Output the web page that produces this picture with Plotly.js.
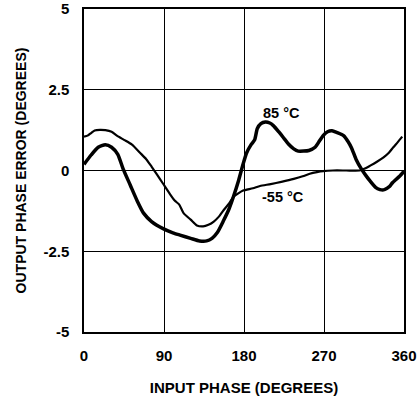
<!DOCTYPE html>
<html><head><meta charset="utf-8">
<script src="https://cdn.plot.ly/plotly-3.0.1.min.js"></script>
<style>html,body{margin:0;padding:0;background:#fff}</style>
</head><body><div id="chart" style="width:420px;height:398px"></div>
<script>
// 85 °C curve (thick)
const hotX = [0, 8, 16, 24, 31, 38, 44, 52, 60, 67, 76, 89, 100, 108, 120, 130, 138, 144, 150, 157, 163, 168, 174, 179, 183, 188, 192, 195, 199, 204, 209, 213, 219, 224, 230, 236, 241, 247, 253, 260, 265, 269, 274, 279, 285, 292, 297, 301, 306, 312, 317, 322, 328, 333, 337, 341, 344, 347, 350, 355, 360];
const hotY = [0.19, 0.48, 0.72, 0.80, 0.72, 0.50, 0.05, -0.45, -0.95, -1.32, -1.58, -1.80, -1.93, -2.00, -2.10, -2.18, -2.18, -2.10, -1.92, -1.55, -1.20, -0.82, -0.30, 0.20, 0.55, 0.80, 0.95, 1.30, 1.45, 1.50, 1.47, 1.39, 1.20, 1.03, 0.82, 0.67, 0.60, 0.60, 0.62, 0.72, 0.92, 1.08, 1.20, 1.23, 1.17, 1.08, 0.90, 0.70, 0.35, 0.05, -0.15, -0.33, -0.52, -0.59, -0.60, -0.55, -0.49, -0.38, -0.30, -0.18, -0.02];
// -55 °C curve (thin)
const coldX = [0, 4, 8, 12, 18, 24, 31, 37, 45, 54, 63, 70, 76, 82, 89, 96, 102, 107, 112, 120, 127, 134, 140, 146, 152, 157, 163, 168, 174, 179, 190, 198, 210, 222, 236, 246, 254, 262, 269, 280, 295, 310, 316, 322, 330, 337, 343, 348, 353, 358];
const coldY = [1.05, 1.08, 1.16, 1.24, 1.26, 1.25, 1.20, 1.08, 0.95, 0.80, 0.55, 0.35, 0.12, -0.12, -0.41, -0.70, -0.93, -1.05, -1.32, -1.52, -1.70, -1.73, -1.68, -1.58, -1.42, -1.23, -1.03, -0.82, -0.70, -0.62, -0.55, -0.48, -0.42, -0.35, -0.26, -0.18, -0.10, -0.05, -0.02, 0.00, 0.00, 0.00, 0.06, 0.15, 0.28, 0.41, 0.55, 0.72, 0.88, 1.05];
const xTicks = [0, 90, 180, 270, 360];
const xTickText = ["0", "90", "180", "270", "360"];
const yTicks = [-5, -2.5, 0, 2.5, 5];
const yTickText = ["-5", "-2.5", "0", "2.5", "5"];
const labelHot = {text: "85 °C", x: 222, y: 1.78};
const labelCold = {text: "-55 °C", x: 224, y: -0.82};

const F = "Liberation Sans, Arial, Helvetica, sans-serif";
const traces = [
  {x: coldX, y: coldY, mode: "lines", line: {color: "#000", width: 2.2, shape: "spline", smoothing: 0.6}, hoverinfo: "skip"},
  {x: hotX, y: hotY, mode: "lines", line: {color: "#000", width: 3.5, shape: "spline", smoothing: 0.6}, hoverinfo: "skip"}
];
const layout = {
  width: 420, height: 398,
  margin: {l: 84, r: 16, t: 9, b: 66},
  paper_bgcolor: "#fff", plot_bgcolor: "#fff",
  showlegend: false,
  font: {family: F, size: 15, color: "#000", weight: "bold"},
  xaxis: {
    range: [0, 360], tickvals: xTicks, ticktext: xTickText,
    showgrid: true, gridcolor: "#000", gridwidth: 1, zeroline: false,
    showline: true, linecolor: "#000", linewidth: 1.6, mirror: true,
    ticks: "outside", ticklen: 9, tickcolor: "rgba(0,0,0,0)",
    tickfont: {family: F, size: 15, weight: "bold"},
    title: {text: "INPUT PHASE (DEGREES)", font: {family: F, size: 15, weight: "bold"}, standoff: 20}
  },
  yaxis: {
    range: [-5, 5], tickvals: yTicks, ticktext: yTickText,
    showgrid: true, gridcolor: "#000", gridwidth: 1, zeroline: false,
    showline: true, linecolor: "#000", linewidth: 1.6, mirror: true,
    ticks: "outside", ticklen: 10, tickcolor: "rgba(0,0,0,0)",
    tickfont: {family: F, size: 15, weight: "bold"},
    title: {text: "OUTPUT PHASE ERROR (DEGREES)", font: {family: F, size: 14, weight: "bold"}, standoff: 13}
  },
  annotations: [labelHot, labelCold].map(a => ({
    x: a.x, y: a.y, text: a.text, showarrow: false, xref: "x", yref: "y",
    font: {family: F, size: 14.5, weight: "bold", color: "#000"}, bgcolor: "rgba(0,0,0,0)"
  }))
};
Plotly.newPlot("chart", traces, layout, {staticPlot: true, displayModeBar: false});
</script></body></html>
